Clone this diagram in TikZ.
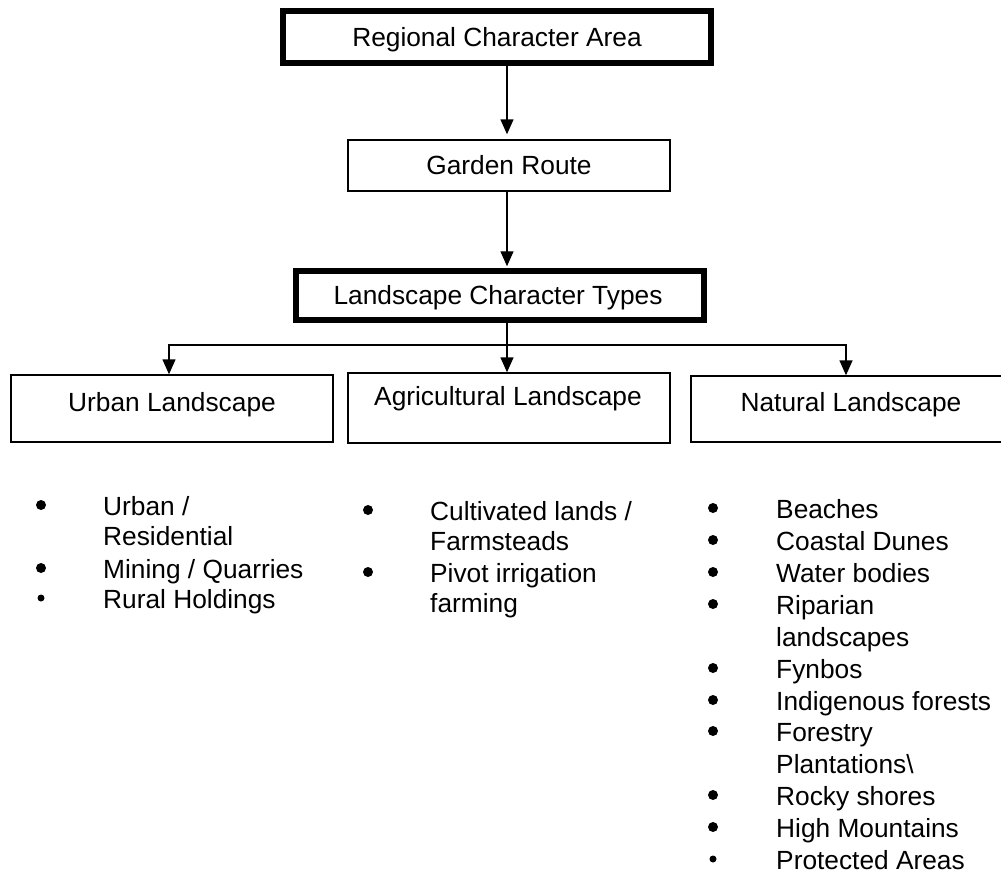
\documentclass[tikz,border=0pt]{standalone}
\usepackage{fontspec}
\setmainfont{Liberation Sans}
\usetikzlibrary{arrows.meta}
\begin{document}
\begin{tikzpicture}[x=1pt,y=-1pt,
  thinbox/.style={draw, line width=1.4pt, inner sep=0pt},
  thickbox/.style={draw, line width=5.5pt, inner sep=0pt},
  lbl/.style={anchor=base, inner sep=0pt, font=\fontsize{26.3}{31.9}\selectfont},
  itemtxt/.style={anchor=base west, inner sep=0pt, font=\fontsize{26.3}{31.9}\selectfont},
  bul/.style={circle, fill=black, inner sep=0pt, minimum size=10pt},
  smallbul/.style={circle, fill=black, inner sep=0pt, minimum size=7pt},
  conn/.style={line width=1.4pt},
  arr/.style={line width=1.4pt, -{Triangle[length=15pt,width=13pt]}}]
\useasboundingbox (0,0) rectangle (1001,873);
\clip (0,0) rectangle (1001,873);

% boxes
\node[thickbox, minimum width=428pt, minimum height=52pt] (r) at (497,37) {};
\node[lbl] (rt) at (497,46) {Regional Character Area};

\node[thinbox, minimum width=322pt, minimum height=51pt] (g) at (509,165.5) {};
\node[lbl] (gt) at (509,174) {Garden Route};

\node[thickbox, minimum width=408pt, minimum height=49pt] (l) at (500,295.5) {};
\node[lbl] (lt) at (498,304) {Landscape Character Types};

\node[thinbox, minimum width=322pt, minimum height=67pt] (u) at (172,408.5) {};
\node[lbl] (ut) at (172,411) {Urban Landscape};

\node[thinbox, minimum width=322pt, minimum height=70pt] (a) at (509,408) {};
\node[lbl] (at) at (508,405) {Agricultural Landscape};

\node[thinbox, minimum width=320pt, minimum height=66pt] (n) at (851,409) {};
\node[lbl] (nt) at (851,411) {Natural Landscape};

% connectors
\coordinate (tx) at (507,0);
\coordinate (bL) at (169,345);
\coordinate (bC) at (507,345);
\coordinate (bR) at (846,345);
\draw[arr, shorten >=5pt] (r.south -| tx) -- (g.north -| tx);
\draw[arr, shorten >=2pt] (g.south -| tx) -- (l.north -| tx);
\draw[arr] (l.south -| tx) -- (a.north -| tx);
\draw[arr] (bC) -- (bL) -- (u.north -| bL);
\draw[arr] (bC) -- (bR) -- (n.north -| bR);

% urban list
\node[bul] (ub1) at (41,505) {};
\node[itemtxt] (ui1) at (103,515) {Urban /};
\node[itemtxt] (ui1b) at (103,545) {Residential};
\node[bul] (ub2) at (41,568) {};
\node[itemtxt] (ui2) at (103,578) {Mining / Quarries};
\node[smallbul] (ub3) at (41,598) {};
\node[itemtxt] (ui3) at (103,608) {Rural Holdings};

% agricultural list
\node[bul] (ab1) at (368,510) {};
\node[itemtxt] (ai1) at (430,520) {Cultivated lands /};
\node[itemtxt] (ai1b) at (430,550) {Farmsteads};
\node[bul] (ab2) at (368,572) {};
\node[itemtxt] (ai2) at (430,582) {Pivot irrigation};
\node[itemtxt] (ai2b) at (430,612) {farming};

% natural list
\node[bul] (nb1) at (713,508) {};
\node[itemtxt] (ni1) at (776,518) {Beaches};
\node[bul] (nb2) at (713,540) {};
\node[itemtxt] (ni2) at (776,550) {Coastal Dunes};
\node[bul] (nb3) at (713,572) {};
\node[itemtxt] (ni3) at (776,582) {Water bodies};
\node[bul] (nb4) at (713,604) {};
\node[itemtxt] (ni4) at (776,614) {Riparian};
\node[itemtxt] (ni4b) at (776,646) {landscapes};
\node[bul] (nb5) at (713,668) {};
\node[itemtxt] (ni5) at (776,678) {Fynbos};
\node[bul] (nb6) at (713,700) {};
\node[itemtxt] (ni6) at (776,710) {Indigenous forests};
\node[bul] (nb7) at (713,731) {};
\node[itemtxt] (ni7) at (776,741) {Forestry};
\node[itemtxt] (ni7b) at (776,773) {Plantations\textbackslash};
\node[bul] (nb8) at (713,795) {};
\node[itemtxt] (ni8) at (776,805) {Rocky shores};
\node[bul] (nb9) at (713,827) {};
\node[itemtxt] (ni9) at (776,837) {High Mountains};
\node[smallbul] (nb10) at (713,859) {};
\node[itemtxt] (ni10) at (776,869) {Protected Areas};
\end{tikzpicture}
\end{document}
